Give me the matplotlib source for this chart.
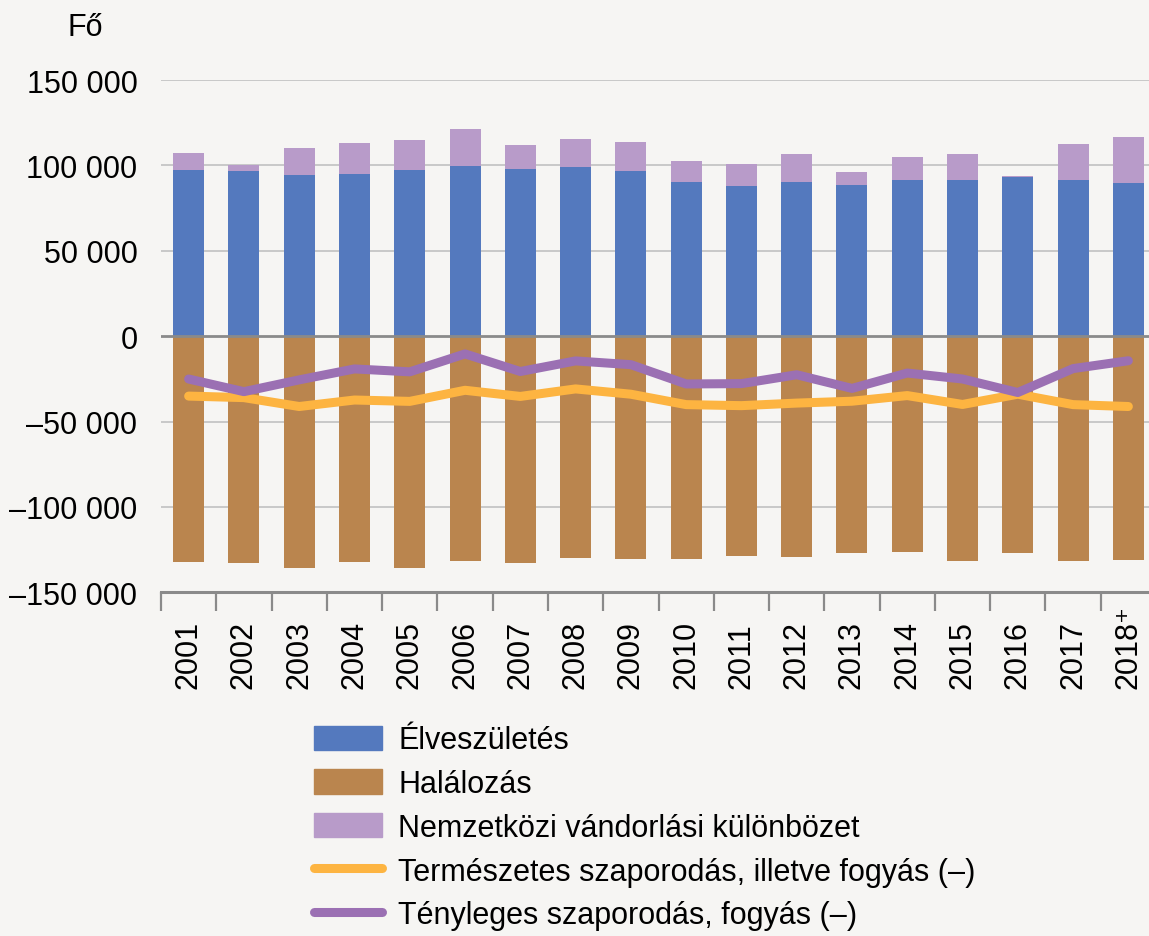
import numpy as np
import matplotlib.pyplot as plt
from matplotlib.patches import Patch
from matplotlib.lines import Line2D

# Népmozgalom, 2001-2018 (fő)
years = ['2001', '2002', '2003', '2004', '2005', '2006', '2007', '2008', '2009',
         '2010', '2011', '2012', '2013', '2014', '2015', '2016', '2017', '2018\u207a']

births = [97047, 96804, 94647, 95137, 97496, 99871, 97613, 99149, 96442,
          90335, 88049, 90269, 88689, 91510, 91690, 93063, 91577, 89807]
deaths = [132183, 132833, 135823, 132492, 135732, 131603, 132938, 130027, 130414,
          130456, 128795, 129440, 126778, 126308, 131697, 127053, 131674, 131045]
migration = [10000, 3500, 15600, 18200, 17300, 21300, 14600, 16400, 17300,
             12100, 12900, 16600, 7500, 13200, 14900, 1000, 21100, 26800]
natural = [-35100, -36000, -41200, -37400, -38200, -31700, -35300, -30900, -34000,
           -40100, -40700, -39200, -38100, -34800, -40000, -34000, -40100, -41200]
actual = [-25100, -32500, -25600, -19200, -20900, -10400, -20700, -14500, -16700,
          -28000, -27800, -22600, -30600, -21600, -25100, -33000, -19000, -14400]

yticks = [-150000, -100000, -50000, 0, 50000, 100000, 150000]

c_birth = '#5479be'
c_death = '#ba854e'
c_mig = '#b89bc9'
c_nat = '#fdb441'
c_act = '#9b70b3'
bg = '#f6f5f3'

plt.rcParams['font.family'] = ['Liberation Sans', 'DejaVu Sans']

fig = plt.figure(figsize=(11.49, 9.37), dpi=100, facecolor=bg)
ax = fig.add_axes([161 / 1149, 1 - 593.3 / 937, (1156 - 161) / 1149, (593.3 - 81) / 937])
ax.set_facecolor(bg)

for s in ['top', 'right', 'left']:
    ax.spines[s].set_visible(False)
ax.spines['bottom'].set_color('#8a8a8a')
ax.spines['bottom'].set_linewidth(2.2)

x = np.arange(len(years))
w = 0.56

for v in yticks:
    if v != 0:
        ax.axhline(v, color='#c8c8c8', lw=1.4, zorder=0)

ax.bar(x, births, w, color=c_birth, zorder=2)
ax.bar(x, migration, w, bottom=births, color=c_mig, zorder=2)
ax.bar(x, [-d for d in deaths], w, color=c_death, zorder=2)
ax.axhline(0, color='#8a8a8a', lw=2, zorder=3)

ax.plot(x, natural, color=c_nat, lw=6.5, solid_capstyle='round', solid_joinstyle='round', zorder=4)
ax.plot(x, actual, color=c_act, lw=6.5, solid_capstyle='round', solid_joinstyle='round', zorder=5)

ax.set_xlim(-0.5, len(years) - 0.5)
ax.set_ylim(-150000, 150000)
ax.set_yticks(yticks)
ax.set_yticklabels([f'{v:,}'.replace(',', ' ').replace('-', '\u2013') for v in yticks])
ax.tick_params(axis='y', length=0, pad=17, labelsize=22)

# tick marks between the years, labels in the middle
ax.set_xticks(np.arange(len(years)) - 0.5, minor=True)
ax.tick_params(axis='x', which='minor', length=14, width=1.6, color='#8a8a8a')
ax.set_xticks(x)
ax.tick_params(axis='x', which='major', length=0, pad=69)
# bottoms aligned, so the "+" of 2018 sticks up
ax.set_xticklabels(years, rotation=90, ha='center', va='bottom', fontsize=22)

fig.text(67 / 1149, 1 - 28 / 937, 'Fő', fontsize=22, va='center', ha='left')

handles = [
    Patch(color=c_birth, label='Élveszületés'),
    Patch(color=c_death, label='Halálozás'),
    Patch(color=c_mig, label='Nemzetközi vándorlási különbözet'),
    Line2D([], [], color=c_nat, lw=6.5, solid_capstyle='round', label='Természetes szaporodás, illetve fogyás (–)'),
    Line2D([], [], color=c_act, lw=6.5, solid_capstyle='round', label='Tényleges szaporodás, fogyás (–)'),
]
fig.legend(handles=handles, loc='upper left', bbox_to_anchor=(299 / 1149, 1 - 711 / 937),
           frameon=False, fontsize=22, handlelength=2.2, handleheight=0.85,
           handletextpad=0.55, labelspacing=0.45, borderpad=0)

fig.savefig('out.png', dpi=100, facecolor=bg)
